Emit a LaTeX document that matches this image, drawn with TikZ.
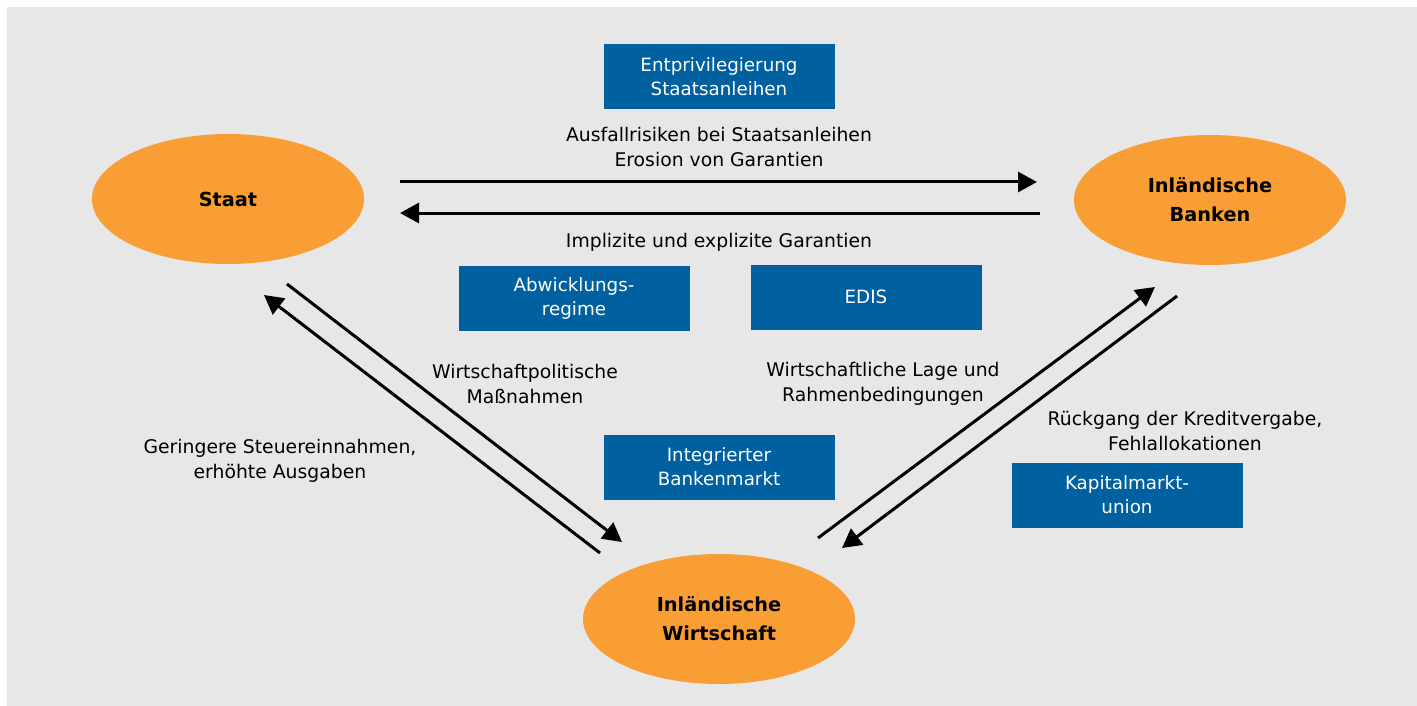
\documentclass[tikz,border=0pt]{standalone}
\usepackage{fontspec}
\setmainfont{DejaVu Sans}
\usetikzlibrary{arrows.meta,shapes.geometric}
\definecolor{bg}{HTML}{E7E7E7}
\definecolor{org}{HTML}{F99D35}
\definecolor{blu}{HTML}{0060A0}
\begin{document}
\begin{tikzpicture}[x=1pt,y=-1pt,
  actor/.style={ellipse,fill=org,minimum width=272pt,minimum height=130pt,inner sep=0pt,align=center,font=\fontsize{19.3}{29}\selectfont\bfseries},
  measure/.style={fill=blu,text=white,minimum width=231pt,minimum height=65pt,inner sep=0pt,align=center,font=\fontsize{18.3}{24}\selectfont},
  lbl/.style={align=center,font=\fontsize{18.8}{25}\selectfont},
  flow/.style={line width=3pt,-{Triangle[length=19pt,width=20pt]}}]
\useasboundingbox (0,0) rectangle (1417,706);
\fill[white] (0,0) rectangle (1417,706);
\fill[bg] (7,7) rectangle (1417,706);
\node[actor] (staat) at (228,199) {Staat};
\node[actor] (banken) at (1210,200) {Inländische\\Banken};
\node[actor] (wirt) at (719,619) {Inländische\\Wirtschaft};
\node[measure] (entp) at (719,77) {Entprivilegierung\\Staatsanleihen};
\node[measure] (abw) at (574,298) {Abwicklungs-\\regime};
\node[measure] (edis) at (866,297) {EDIS};
\node[measure] (ibm) at (719,467) {Integrierter\\Bankenmarkt};
\node[measure] (kmu) at (1127,495) {Kapitalmarkt-\\union};
\node[lbl] (l1) at (719,147) {Ausfallrisiken bei Staatsanleihen\\Erosion von Garantien};
\node[lbl] (l2) at (719,242) {Implizite und explizite Garantien};
\node[lbl] (l3) at (525,384) {Wirtschaftpolitische\\Maßnahmen};
\node[lbl] (l4) at (883,384) {Wirtschaftliche Lage und\\Rahmenbedingungen};
\node[lbl] (l5) at (280,461) {Geringere Steuereinnahmen,\\erhöhte Ausgaben};
\node[lbl] (l6) at (1185,431) {Rückgang der Kreditvergabe,\\Fehlallokationen};
\coordinate (a1s) at (400,182); \coordinate (a1e) at (1037,182);
\coordinate (a2s) at (1040,213); \coordinate (a2e) at (400,213);
\coordinate (a3s) at (287,284); \coordinate (a3e) at (622,542);
\coordinate (a4s) at (600,553); \coordinate (a4e) at (264,295);
\coordinate (a5s) at (818,538); \coordinate (a5e) at (1155,287);
\coordinate (a6s) at (1177,296); \coordinate (a6e) at (842,548);
\draw[flow] (a1s) -- (a1e);
\draw[flow] (a2s) -- (a2e);
\draw[flow] (a3s) -- (a3e);
\draw[flow] (a4s) -- (a4e);
\draw[flow] (a5s) -- (a5e);
\draw[flow] (a6s) -- (a6e);
\end{tikzpicture}
\end{document}
